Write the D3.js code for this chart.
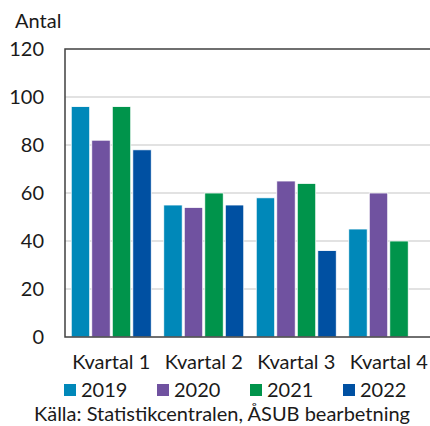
<!DOCTYPE html>
<html>
<head>
<meta charset="utf-8">
<script src="https://cdn.jsdelivr.net/npm/d3@7"></script>
<style>
body { margin: 0; background: #fff; }
text { font-family: Lato, "Noto Sans", sans-serif; fill: #1a1a1a; }
</style>
</head>
<body>
<script>
var quarters = ["Kvartal 1", "Kvartal 2", "Kvartal 3", "Kvartal 4"];
var years = ["2019", "2020", "2021", "2022"];
var values2019 = [96, 55, 58, 45];
var values2020 = [82, 54, 65, 60];
var values2021 = [96, 60, 64, 40];
var values2022 = [78, 55, 36, null];
var yTicks = [0, 20, 40, 60, 80, 100, 120];
var colors = ["#0088b9", "#7052a0", "#00944b", "#0050a2"];

var series = [values2019, values2020, values2021, values2022];
var fontSize = "20px";

var svgWidth = 430, svgHeight = 426;
var margin = {top: 49, right: -5, bottom: 89, left: 65};
var width = svgWidth - margin.left - margin.right;
var height = svgHeight - margin.top - margin.bottom;

var svg = d3.select("body").append("svg").attr("width", svgWidth).attr("height", svgHeight);
var chartGroup = svg.append("g").attr("transform", `translate(${margin.left}, ${margin.top})`);

var x0 = d3.scaleBand().domain(quarters).range([0, width]).paddingInner(0.135).paddingOuter(0.0675);
var x1 = d3.scaleBand().domain(years).range([0, x0.bandwidth()]).paddingInner(0.1);
var y = d3.scaleLinear().domain([0, 120]).range([height, 0]);

// gridlines
chartGroup.selectAll(".grid").data(yTicks.filter(d => d > 0 && d < 120)).enter()
    .append("line")
    .attr("x1", 0).attr("x2", width)
    .attr("y1", d => y(d)).attr("y2", d => y(d))
    .attr("stroke", "#d9d9d9").attr("stroke-width", 1.5);

// bars
var rows = [];
quarters.forEach(function(q, qi) {
    years.forEach(function(yr, yi) {
        if (series[yi][qi] != null) rows.push({q: q, year: yr, yi: yi, v: series[yi][qi]});
    });
});

chartGroup.selectAll(".bar").data(rows).enter()
    .append("rect")
    .attr("x", d => x0(d.q) + x1(d.year))
    .attr("y", d => y(d.v))
    .attr("width", x1.bandwidth())
    .attr("height", d => y(0) - y(d.v))
    .attr("fill", d => colors[d.yi])
    .attr("stroke", "#ffffff").attr("stroke-width", 0.8);

// frame
chartGroup.append("rect").attr("x", 0).attr("y", 0).attr("width", width).attr("height", height)
    .attr("fill", "none").attr("stroke", "#404040").attr("stroke-width", 1.5);

// y axis
var leftAxis = d3.axisLeft(y).tickValues(yTicks).tickSize(0).tickPadding(21);
var yAxisG = chartGroup.append("g").call(leftAxis);
yAxisG.select(".domain").remove();
yAxisG.selectAll("text").style("font-size", fontSize).attr("fill", "#1a1a1a");

// x axis
var bottomAxis = d3.axisBottom(x0).tickSize(0).tickPadding(18);
var xAxisG = chartGroup.append("g").attr("transform", `translate(0,${height})`).call(bottomAxis);
xAxisG.select(".domain").remove();
xAxisG.selectAll("text").style("font-size", fontSize).attr("fill", "#1a1a1a");

// y label
svg.append("text").attr("x", 15).attr("y", 28).style("font-size", fontSize).text("Antal");

// legend
var legend = svg.selectAll(".legend").data(years).enter()
    .append("g").attr("transform", (d, i) => `translate(${64 + i * 93}, 384)`);
legend.append("rect").attr("width", 12).attr("height", 12).attr("fill", (d, i) => colors[i]);
legend.append("text").attr("x", 17).attr("y", 12.5).style("font-size", fontSize).text(d => d);

// source
svg.append("text").attr("x", 34).attr("y", 421).style("font-size", fontSize)
    .text("Källa: Statistikcentralen, ÅSUB bearbetning");
</script>
</body>
</html>
